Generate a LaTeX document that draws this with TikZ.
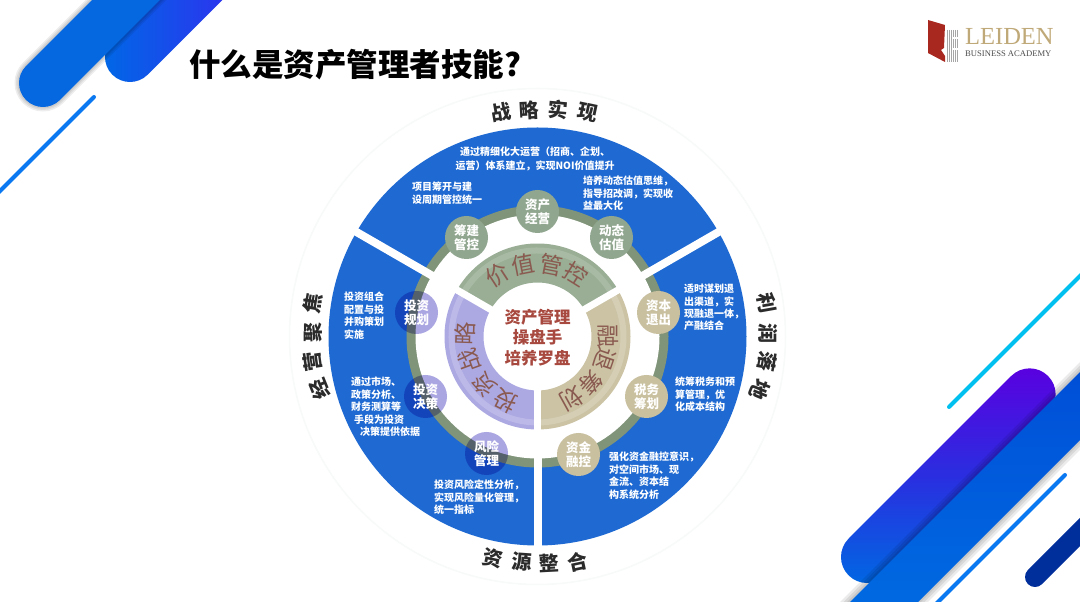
\documentclass[tikz,border=0pt]{standalone}
\usepackage{fontspec}
\setmainfont{Noto Sans CJK SC}
\newfontfamily\logofont{Liberation Serif}
\usepackage{tikz}
\tikzset{
    blocktext/.style={text=white, font=\fontsize{10}{12.4}\selectfont\bfseries, inner sep=0pt, anchor=north west, align=left},
    chiptext/.style={text=white, font=\fontsize{12.5}{14}\selectfont\bfseries, inner sep=0pt, align=center},
    dialtext/.style={text=dialbrown, font=\fontsize{23}{23}\selectfont, inner sep=0pt},
    goaltext/.style={text=goalblack, font=\fontsize{20}{20}\selectfont\bfseries, inner sep=0pt},
    gapline/.style={white, line width=8pt},
    rimline/.style={line width=6pt, opacity=0.35},
}
\definecolor{wheelblue}{HTML}{1E69D2}
\definecolor{ringgreen}{HTML}{7F9478}
\definecolor{chipgreen}{HTML}{90A68E}
\definecolor{chipsand}{HTML}{C9C0A0}
\definecolor{chipviolet}{HTML}{AAA6E2}
\definecolor{dialgreen}{HTML}{99AE94}
\definecolor{dialsand}{HTML}{CBC3A4}
\definecolor{dialviolet}{HTML}{ACA8E2}
\definecolor{dialbrown}{HTML}{8A5A50}
\definecolor{hubred}{HTML}{A8493F}
\definecolor{goalblack}{HTML}{2B2B2B}
\definecolor{logored}{HTML}{A8281F}
\definecolor{logogold}{HTML}{C0A978}
\definecolor{linkblue}{HTML}{0A78F0}
\definecolor{linkcyan}{HTML}{00C0F0}
\definecolor{barblue}{HTML}{0568E0}
\definecolor{barleft}{HTML}{0068E6}
\definecolor{barright}{HTML}{2B35EE}
\definecolor{bartop}{HTML}{5A00E0}
\definecolor{barmid}{HTML}{2A2EE0}
\definecolor{barlow}{HTML}{0068E2}
\definecolor{bandtop}{HTML}{004ED6}
\definecolor{bandlow}{HTML}{006AE2}
\definecolor{stubnavy}{HTML}{002F9C}
\definecolor{haloline}{HTML}{F7FAF9}
\begin{document}
\begin{tikzpicture}[x=1pt, y=1pt]
    \useasboundingbox (0, 0) rectangle (1080, 602);
    \clip (0, 0) rectangle (1080, 602);
    \fill[white] (0, 0) rectangle (1080, 602);

    % corner bars, top left
    \path[left color=barleft, right color=barright] (130, 545) ++(135:25) arc[start angle=135, end angle=315, radius=25] -- ++(45:110) -- ++(135:50) -- cycle;
    \foreach \w in {9, 6, 3}
        \draw[black, opacity=0.07, line width=\w pt] (43, 519) ++(135:24) arc[start angle=135, end angle=315, radius=24] -- ++(45:160) -- ++(135:48) -- cycle;
    \fill[barblue] (43, 519) ++(135:24) arc[start angle=135, end angle=315, radius=24] -- ++(45:160) -- ++(135:48) -- cycle;
    \draw[linkblue, line width=4pt, line cap=round] (94, 505) -- (-6, 405);

    % corner bars, bottom right
    \draw[linkcyan, line width=4pt, line cap=round] (949, 195) -- (1090, 336);
    \path[top color=bartop, bottom color=barlow, middle color=barmid] (867, 45) ++(135:26) arc[start angle=135, end angle=315, radius=26] -- ++(45:230) arc[start angle=-45, end angle=135, radius=26] -- cycle;
    \foreach \w in {14, 9, 4}
        \draw[black, opacity=0.08, line width=\w pt] (840, -10) -- (1090, 240) -- (1090, 172) -- (908, -10) -- cycle;
    \path[top color=bandtop, bottom color=bandlow] (840, -10) -- (1090, 240) -- (1090, 172) -- (908, -10) -- cycle;
    \draw[linkblue, line width=4pt, line cap=round] (1065, 127) -- (930, -8);
    \draw[stubnavy, line width=20pt, line cap=round] (1035, 25) -- (1095, 85);

    % title and logo
    \node[font=\fontsize{31.5}{31.5}\selectfont\bfseries, inner sep=0pt, anchor=west] (title) at (189, 537) {什么是资产管理者技能?};
    \fill[logored] (928, 582) -- (945, 577) -- (944, 554) -- (941, 552) -- (945, 546) -- (945, 540) -- (928, 549) -- cycle;
    \foreach \x in {947, 949, ..., 957}
        \draw[gray!70, line width=1pt] (\x, 572) -- (\x, 540);
    \foreach \y in {564, 553}
        \draw[white, line width=1.6pt] (952, \y) -- (959, \y);
    \node[font=\logofont\fontsize{24.5}{24.5}\selectfont, text=logogold, inner sep=0pt, anchor=west] (logoname) at (965, 565) {LEIDEN};
    \node[font=\logofont\fontsize{8.6}{8.6}\selectfont, text=black!70, inner sep=0pt, anchor=west] (logosub) at (965, 548) {BUSINESS ACADEMY};

    % wheel
    \begin{scope}[shift={(537.5, 265.5)}]
        \draw[haloline, line width=1.5pt] (0, 0) circle (248);
        \fill[wheelblue] (0, 0) circle (209);
        \fill[ringgreen] (0, 0) circle (131);
        \fill[white] (0, 0) circle (122);
        \foreach \a in {30, 150, 270}
            \draw[gapline] (\a:121) -- (\a:213);

        \fill[dialgreen] (30:93) arc[start angle=30, end angle=150, radius=93] -- (150:54) arc[start angle=150, end angle=30, radius=54] -- cycle;
        \fill[dialsand] (-90:93) arc[start angle=-90, end angle=30, radius=93] -- (30:54) arc[start angle=30, end angle=-90, radius=54] -- cycle;
        \fill[dialviolet] (150:93) arc[start angle=150, end angle=270, radius=93] -- (270:54) arc[start angle=270, end angle=150, radius=54] -- cycle;
        \draw[rimline, dialgreen!55!white] (32:86) arc[start angle=32, end angle=148, radius=86];
        \draw[rimline, dialsand!45!white] (-88:86) arc[start angle=-88, end angle=28, radius=86];
        \draw[rimline, dialviolet!45!white] (152:86) arc[start angle=152, end angle=268, radius=86];
        \foreach \a in {30, 150, 270}
            \draw[white, line width=7pt] (\a:50) -- (\a:96);

        \foreach \t/\a/\n in {价/123/a, 值/101/b, 管/79/c, 控/58/d}
            \node[dialtext, rotate=\a-90] (value\n) at (\a:73) {\t};
        \foreach \t/\a/\n in {融/0/a, 退/-19/b, 筹/-41/c, 划/-61/d}
            \node[dialtext, rotate=\a-90] (exit\n) at (\a:71) {\t};
        \foreach \t/\a/\n in {略/178/a, 战/200/b, 资/222/c, 投/243/d}
            \node[dialtext, rotate=\a-90] (plan\n) at (\a:72) {\t};

        \node[text=hubred, font=\fontsize{16.5}{20.5}\selectfont\bfseries, inner sep=0pt, align=center] (hub) at (0, -1) {资产管理\\操盘手\\培养罗盘};

        \foreach \p/\q/\t/\n in {0/125/资产\\经营/asset, -71/99/筹建\\管控/build, 74/99/动态\\估值/worth}{
            \fill[chipgreen] (\p, \q) circle (21.5);
            \node[chiptext] (\n) at (\p, \q) {\t};
        }
        \foreach \p/\q/\t/\n in {121/24/资本\\退出/quit, 109/-60/税务\\筹划/tax, 41/-118/资金\\融控/fund}{
            \fill[chipsand] (\p, \q) circle (21.5);
            \node[chiptext] (\n) at (\p, \q) {\t};
        }
        \foreach \p/\q/\t/\n in {-121/24/投资\\规划/plan, -112/-60/投资\\决策/pick, -51/-117/风险\\管理/risk}{
            \fill[chipviolet, blend mode=multiply] (\p, \q) circle (21.5);
            \node[chiptext] (\n) at (\p, \q) {\t};
        }
    \end{scope}

    % texts on the blue ring
    \node[blocktext, anchor=north, align=center, text width=175pt, font=\fontsize{10}{13.4}\selectfont\bfseries] (assetnote) at (535, 455) {通过精细化大运营（招商、企划、\\运营）体系建立，实现NOI价值提升};
    \node[blocktext] (buildnote) at (412, 420) {项目筹开与建\\设周期管控统一};
    \node[blocktext] (worthnote) at (583, 426) {培养动态估值思维，\\指导招改调，实现收\\益最大化};
    \node[blocktext] (quitnote) at (684, 318) {适时谋划退\\出渠道，实\\现融退一体，\\产融结合};
    \node[blocktext] (taxnote) at (675, 225) {统筹税务和预\\算管理，优\\化成本结构};
    \node[blocktext] (fundnote) at (609, 150) {强化资金融控意识，\\对空间市场、现\\金流、资本结\\构系统分析};
    \node[blocktext] (risknote) at (434, 122) {投资风险定性分析，\\实现风险量化管理，\\统一指标};
    \node[blocktext] (picknote) at (351, 225) {通过市场、\\政策分析、\\财务测算等\\\hspace*{3pt}手段为投资\\\hspace*{9pt}决策提供依据};
    \node[blocktext] (plannote) at (344, 310) {投资组合\\配置与投\\并购策划\\实施};

    % labels round the wheel
    \foreach \t/\p/\q/\a/\n in {战/501/490/10/a, 略/529/492/3/b, 实/558/492/-5/c, 现/588/489/-12/d,
                                利/767/299/-80/e, 润/768/268/-90/f, 落/767/240/-100/g, 地/760/212/-112/h,
                                资/493/44/-12/i, 源/522/40/-4/j, 整/549/39/3/k, 合/578/40/12/l,
                                焦/313/299/80/m, 聚/313/269/90/n, 营/313/240/98/o, 经/319/213/112/p}
        \node[goaltext, rotate=\a] (goal\n) at (\p, \q) {\t};
\end{tikzpicture}
\end{document}
